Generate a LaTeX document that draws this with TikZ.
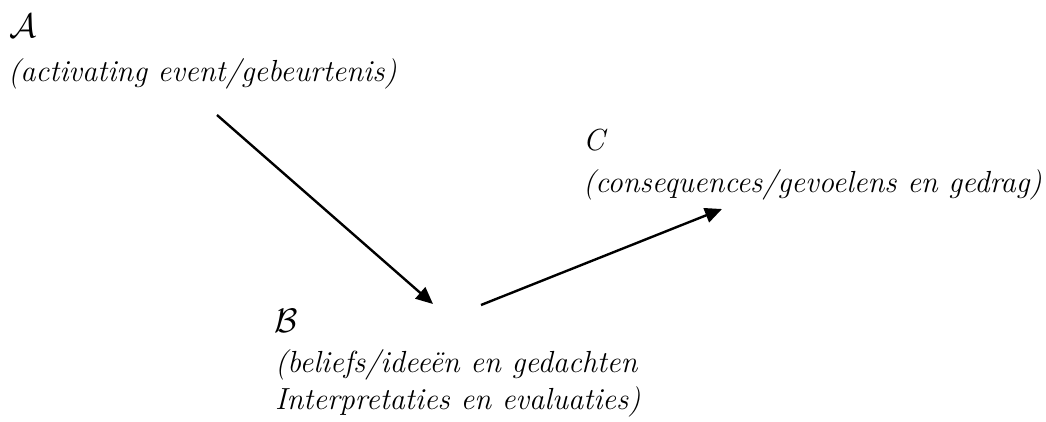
\documentclass[tikz,border=0pt]{standalone}
\usetikzlibrary{arrows.meta}
\begin{document}
\begin{tikzpicture}[x=1pt,y=-1pt,
  txt/.style={anchor=base west,inner sep=0pt,font=\fontsize{30.5}{36}\selectfont\itshape},
  bigletter/.style={anchor=base west,inner sep=0pt},
  conn/.style={line width=2.4pt,-{Triangle[length=17pt,width=15pt]}}]
\useasboundingbox (0,0) rectangle (1046,421);
\node[bigletter] (Al) at (9,37) {\scalebox{3.4}{$\mathcal{A}$}};
\node[txt] (At) at (8,81) {(activating event/gebeurtenis)};
\node[txt] (Cl) at (583,150) {C};
\node[txt] (Ct) at (583,192) {(consequences/gevoelens en gedrag)};
\node[bigletter] (Bl) at (274,332) {\scalebox{3.4}{$\mathcal{B}$}};
\node[txt] (Bt1) at (275,372) {(beliefs/idee\"en en gedachten};
\node[txt] (Bt2) at (275,409) {Interpretaties en evaluaties)};
\coordinate (a1) at (217,115);
\coordinate (a2) at (433,304);
\coordinate (b1) at (481,305);
\coordinate (b2) at (722,209);
\draw[conn] (a1) -- (a2);
\draw[conn] (b1) -- (b2);
\end{tikzpicture}
\end{document}
